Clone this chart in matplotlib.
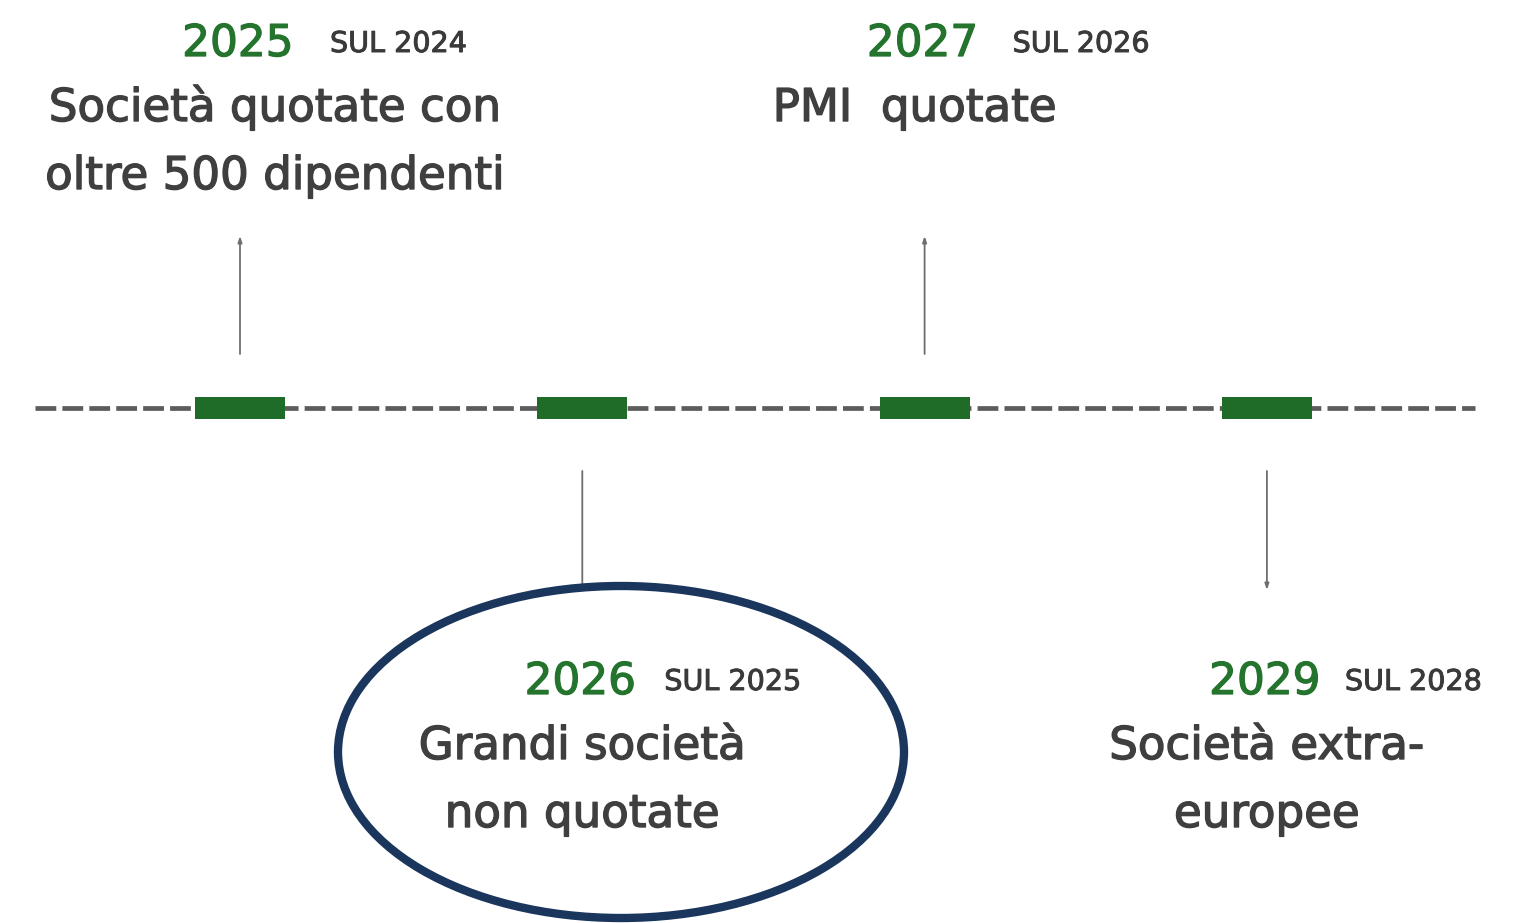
import matplotlib.pyplot as plt
import matplotlib.patheffects as pe
from matplotlib.patches import Ellipse

# Dati della timeline
anni = ["2025", "2026", "2027", "2029"]
riferimento = ["SUL 2024", "SUL 2025", "SUL 2026", "SUL 2028"]
descrizioni = [
    ["Società quotate con", "oltre 500 dipendenti"],
    ["Grandi società", "non quotate"],
    ["PMI  quotate"],
    ["Società extra-", "europee"],
]
sopra = [True, False, True, False]

plt.rcParams['font.family'] = ['DejaVu Sans']

VERDE = "#24742e"
GRIGIO_TESTO = "#3f3f3f"
GRIGIO_LINEA = "#5c5c5c"
BLU = "#1b365d"

W, H = 1521, 923
passo = 342.3
x0 = 240

fig = plt.figure(figsize=(W / 100, H / 100), dpi=100)
ax = fig.add_axes([0, 0, 1, 1])
ax.set_xlim(-x0 / passo, (W - x0) / passo)
ax.set_ylim(H, 0)
ax.axis('off')

pos = list(range(len(anni)))

# linea tratteggiata
ax.plot([-205 / passo, 3 + 208 / passo], [408, 408], color=GRIGIO_LINEA, lw=3.4,
        linestyle=(0, (4.4, 1.3)), dash_capstyle='butt', zorder=1)

# blocchi verdi
ax.bar(pos, 22, bottom=397, width=90 / passo, color="#1f6b28", zorder=2)

# offset orizzontali (pixel)
off_testo = [35, 0, -10, 0]
off_sul = [90, 82, 88, 78]


def spesso(col, w):
    return [pe.withStroke(linewidth=w, foreground=col)]


for i in pos:
    if sopra[i]:
        ax.annotate("", xy=(i, 236), xytext=(i, 354),
                    arrowprops=dict(arrowstyle='-|>,head_length=0.35,head_width=0.12',
                                    color="#6e6e6e", lw=1.3, shrinkA=0, shrinkB=0))
        base = 0
    else:
        ax.annotate("", xy=(i, 590 if i == 3 else 586), xytext=(i, 471),
                    arrowprops=dict(arrowstyle='-|>,head_length=0.35,head_width=0.12'
                                    if i == 3 else '-',
                                    color="#6e6e6e", lw=1.3, shrinkA=0, shrinkB=0))
        base = 638

    ax.text(i - 2 / passo, base + 56, anni[i], ha='center', va='baseline',
            fontsize=31.5, color=VERDE, path_effects=spesso(VERDE, 0.9))
    ax.annotate(riferimento[i], xy=(i, base + 52), xytext=(off_sul[i], 0),
                textcoords='offset pixels', ha='left', va='baseline', fontsize=20.6,
                color="#3a3a3a", path_effects=spesso("#3a3a3a", 0.7))
    for k, riga in enumerate(descrizioni[i]):
        ax.text(i + off_testo[i] / passo, base + 121 + 68 * k, riga, ha='center',
                va='baseline', fontsize=32.5, color=GRIGIO_TESTO,
                path_effects=spesso(GRIGIO_TESTO, 1.0))

# ellisse che evidenzia il 2026
ax.add_patch(Ellipse(((621 - x0) / passo, 752), 566 / passo, 332, fill=False,
                     edgecolor=BLU, lw=6, zorder=3))

fig.savefig("out.png", dpi=100, facecolor='white')
